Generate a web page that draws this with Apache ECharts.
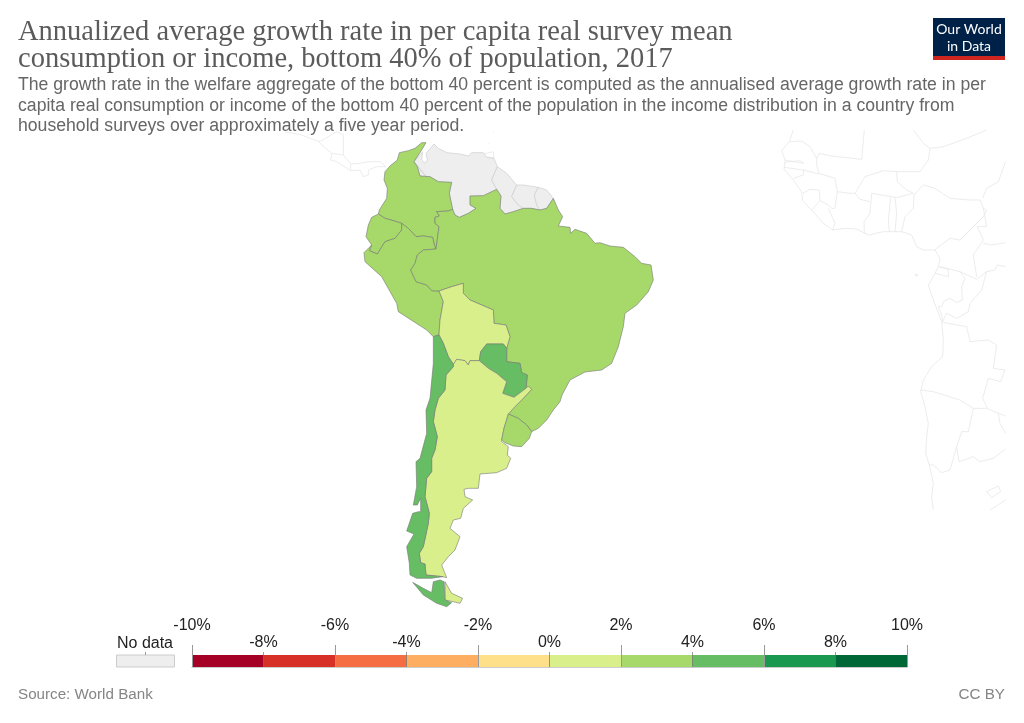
<!DOCTYPE html>
<html>
<head>
<meta charset="utf-8">
<style>html,body{margin:0;padding:0;background:#fff}#c{width:1024px;height:723px}</style>
<script src="https://cdn.jsdelivr.net/npm/echarts@6/dist/echarts.min.js"></script>
</head>
<body>
<div id="c"></div>
<script>
// ---- data ----
const countries = ['Colombia','Ecuador','Peru','Brazil','Bolivia','Paraguay','Argentina','Chile','Uruguay'];
const growth    = [3.1, 2.7, 3.3, 3.4, 1.6, 4.6, 1.1, 4.8, 3.5];
const noDataCountries = ['Venezuela','Guyana','Suriname','French Guiana'];
const binEdges  = [-10,-8,-6,-4,-2,0,2,4,6,8,10];
const binColors = ['#a50026','#d73027','#f46d43','#fdae61','#fee08b','#d9ef8b','#a6d96a','#66bd63','#1a9850','#006837'];
const upperTicks = [-10,-6,-2,2,6,10];
const lowerTicks = [-8,-4,0,4,8];

// ---- outline tracing (region shapes) ----
const A = a => a.map(p => [340 + p[0]/3, 130 + p[1]/3]);
const B = a => a.map(p => [390 + p[0]/3, 330 + p[1]/3]);
const W = a => a.map(p => [760 + p[0]/3, 130 + p[1]/3]);
const T = a => a.map(p => [280 + p[0]/3, 120 + p[1]/3]);
const R = a => a.slice().reverse();

const colEcu = A([[115,252],[135,265],[160,272],[185,280]]);
const colPer = A([[185,280],[205,295],[228,320],[250,318],[278,322],[283,345],[288,357]]);
const colBra = A([[288,357],[293,320],[297,290],[285,280],[285,262],[298,258],[290,245],[325,243],[338,238]]);
const colVen = A([[338,238],[328,190],[335,157],[295,155],[270,140],[240,138],[232,110],[222,95],[245,60],[258,38]]);
const colCoast = A([[258,38],[245,38],[225,55],[205,62],[178,68],[172,90],[150,108],[135,125],[132,150],[142,175],[140,205],[118,240],[115,252]]);
const ecuPer = A([[185,280],[185,300],[165,325],[135,335],[112,372],[88,362],[95,345]]);
const ecuCoast = A([[95,345],[78,320],[85,285],[95,262],[115,252]]);
const perBra = A([[288,357],[250,360],[232,375],[225,400],[212,420],[228,455],[260,465],[275,482],[297,483]]);
const bolPer = A([[297,483],[310,515],[300,570],[297,615]]);
const perChi = A([[297,615],[280,620]]);
const perCoast = A([[280,620],[260,600],[175,545],[170,520],[125,440],[75,395],[72,368],[95,345]]);
const braBol = A([[297,483],[335,470],[370,460],[370,490],[390,510],[460,540],[462,580],[498,585],[510,620]]).concat(B([[350,55]]));
const bolPar = B([[350,55],[340,42],[290,42],[272,65],[268,92]]);
const braPar = B([[350,55],[350,95],[390,100],[395,128],[412,135],[408,175]]);
const parArg = B([[268,92],[295,115],[320,130],[350,155],[338,190],[372,202],[408,175]]);
const bolArg = B([[268,92],[240,92],[235,105],[225,92],[200,88],[190,103]]);
const bolChi = B([[190,103],[175,80],[160,40]]).concat(A([[297,615]]));
const chiArg = B([[190,103],[190,110],[168,135],[165,180],[145,205],[135,240],[130,275],[142,320],[135,360],[125,385],[125,425],[110,445],[105,500],[118,550],[115,580],[100,650],[88,670],[92,698],[105,702],[108,735],[158,740]]);
const chiSouth = B([[158,740],[125,745],[80,745],[60,735],[58,700],[50,650],[72,612],[50,603],[68,550],[85,545],[92,545],[92,505],[82,525],[70,525],[80,470],[78,395],[90,385],[110,310],[108,240],[120,205],[130,100],[133,20]]);
const tdfChile = B([[68,757],[100,775],[125,788],[130,755],[150,750],[162,755],[165,810],[185,818],[170,830],[140,820],[100,795],[68,757]]);
const tdfArg = B([[165,755],[185,790],[218,805],[210,820],[190,815],[165,810],[165,755]]);
const argBra = B([[408,175],[415,168],[425,178],[400,205],[375,230],[355,252]]);
const argUru = B([[355,252],[342,295],[335,330]]);
const argCoast = B([[335,335],[355,350],[352,375],[362,385],[350,415],[320,428],[270,432],[265,475],[235,475],[222,478],[225,500],[248,510],[220,535],[212,565],[190,570],[180,595],[210,620],[195,660],[175,680],[155,705],[170,743],[158,740]]);
const braUru = B([[355,252],[385,265],[410,285],[425,305]]);
const uruCoast = B([[425,305],[418,325],[395,350],[370,348],[345,338],[335,330]]);
const braVen = A([[338,238],[345,255],[358,262],[385,250],[408,235],[390,225],[390,198],[430,197],[470,178]]);
const braGuy = A([[470,178],[483,198],[480,235],[495,252],[520,245],[550,235]]);
const braSur = A([[550,235],[575,235],[600,240]]);
const braFg  = A([[600,240],[620,235],[640,205]]);
const braCoast = A([[640,205],[655,240],[668,260],[655,288],[690,292],[692,310],[705,298],[740,310],[765,340],[780,338],[810,348],[850,352],[885,380],[905,400],[933,405],[940,450],[925,485],[890,525],[855,550],[850,590],[835,650],[815,700],[785,720]])
  .concat([[585,372],[570,380],[562,395]])
  .concat(B([[510,215],[490,240],[470,270],[445,295],[425,305]]));
const venCoast = A([[222,95],[248,65],[245,90],[255,100],[262,90],[258,70],[282,42],[295,55],[320,68],[360,72],[385,78],[395,68],[430,68],[440,82],[462,85],[472,110]]);
const venGuy = A([[472,110],[455,150],[470,178]]);
const guyTop = A([[472,110],[500,130],[530,165]]);
const guySur = A([[530,165],[515,200],[535,225],[550,235]]);
const surTop = A([[530,165],[550,165],[595,172]]);
const surFg  = A([[595,172],[583,195],[590,225],[600,240]]);
const fgTop  = A([[595,172],[620,180],[640,205]]);

const shapes = {
  'Venezuela': [venCoast.concat(venGuy, R(braVen), R(colVen.slice(0,8)))],
  'Guyana': [guyTop.concat(guySur, R(braGuy), R(venGuy))],
  'Suriname': [surTop.concat(surFg, R(braSur), R(guySur))],
  'French Guiana': [fgTop.concat(R(braFg), R(surFg))],
  'Colombia': [colEcu.concat(colPer, colBra, colVen, colCoast)],
  'Ecuador': [colEcu.concat(ecuPer, ecuCoast)],
  'Peru': [colPer.concat(perBra, bolPer, perChi, perCoast, R(ecuPer))],
  'Brazil': [colBra.concat(braVen, braGuy, braSur, braFg, braCoast, R(braUru), R(argBra), R(braPar), R(braBol), R(perBra))],
  'Bolivia': [braBol.concat(bolPar, bolArg, bolChi, R(bolPer))],
  'Paraguay': [bolPar.concat(parArg, R(braPar))],
  'Argentina': [R(bolArg).concat(parArg, argBra, argUru, argCoast, R(chiArg)), tdfArg],
  'Chile': [perChi.concat(R(chiSouth), R(chiArg), bolChi), tdfChile],
  'Uruguay': [R(argUru).concat(braUru, uruCoast)]
};

// faint neighbours, drawn as thin lines only
const faintLines = [
  T([[318,140],[300,125],[265,125],[240,130],[212,132],[190,105],[190,45],[170,35],[120,65],[90,55],[65,45],[40,40],[15,36]]),
  T([[318,140],[290,140],[265,150],[265,165],[250,170],[240,150],[212,152],[170,125],[152,120],[155,100],[115,65]]),
  T([[190,105],[155,100]]), T([[212,132],[212,152]]),
  A([[430,72],[460,65],[462,82],[435,82],[430,72]]),
  T([[640,34],[642,37]]), T([[625,70],[627,72]]), T([[668,48],[670,50]]),
  W([[100,0],[88,35],[65,62],[75,90],[72,118],[100,150],[125,185],[128,212],[155,240],[190,280],[218,300],[255,295],[290,297],[325,315],[370,305],[425,305],[455,315],[470,350],[490,360],[525,360],[540,385],[535,410],[525,430],[505,465],[520,510],[545,575],[550,630],[548,680],[515,710],[490,750],[482,785],[495,830],[505,880],[500,920],[497,970],[508,1005],[520,1060],[515,1100],[520,1140]]),
  W([[88,35],[125,33],[150,50],[170,85],[178,70],[215,78],[305,88],[313,0]]),
  W([[170,85],[170,105],[177,130]]), W([[72,112],[130,120],[177,132]]),
  W([[75,90],[130,100],[120,92],[75,97]]), W([[100,145],[130,135],[130,120]]),
  W([[177,130],[225,145],[232,185],[225,235],[215,235],[205,225],[180,212],[178,180],[150,178],[128,190]]),
  W([[180,212],[155,240]]), W([[205,235],[218,265],[225,280],[218,300]]),
  W([[232,185],[270,190],[285,190],[300,208],[330,215]]),
  W([[285,190],[315,140],[370,122],[410,125],[480,125],[505,90],[510,55],[550,50],[620,25],[680,0]]),
  W([[460,0],[490,40],[510,55]]),
  W([[335,190],[410,203],[460,190],[440,180],[412,155],[410,125]]),
  W([[335,190],[330,250],[312,275],[313,310]]),
  W([[392,203],[385,270],[388,305]]), W([[405,205],[410,250],[405,305]]),
  W([[425,305],[435,260],[460,235],[462,195]]),
  W([[462,195],[490,165],[525,175],[570,205],[630,210],[660,210],[670,235],[680,240],[670,260],[640,290],[600,330],[570,325],[530,355],[525,360]]),
  W([[680,290],[652,290],[670,330],[640,375],[650,440]]), W([[670,340],[695,345],[737,338]]),
  W([[668,205],[680,175],[715,155],[737,95]]), W([[670,235],[680,290]]),
  W([[540,410],[600,425],[650,448],[680,425],[705,420],[712,405],[737,410]]),
  W([[535,410],[565,418],[565,440],[525,430]]),
  W([[600,425],[615,445],[605,470],[607,510],[590,518],[570,505],[550,515],[545,530],[535,530],[545,555],[548,575]]),
  W([[680,425],[665,480],[630,520],[625,545],[590,565],[560,550],[548,575]]),
  W([[548,577],[620,590],[630,635],[685,630],[710,645],[700,715],[735,720],[722,755],[685,745],[668,805],[682,835]]),
  W([[482,780],[520,785],[600,810],[640,835],[680,835],[715,850],[737,858]]),
  W([[640,835],[625,905],[605,905],[590,950],[570,1020],[545,1028],[520,1005],[508,1005]]),
  W([[590,950],[597,995],[640,980],[660,995],[700,985],[737,957]]),
  W([[715,850],[720,880],[737,910]]),
  W([[680,1085],[715,1068],[722,1085],[695,1103],[680,1085]]),
  W([[737,1110],[690,1140]]), W([[466,433],[472,433],[472,437],[466,437],[466,433]])
];

const flip = ring => ring.map(p => [p[0], -p[1]]);
const features = [{
  type:'Feature', properties:{name:'Neighbours'},
  geometry:{type:'MultiLineString', coordinates: faintLines.map(flip)}
}].concat(noDataCountries.concat(countries).map(n => ({
  type:'Feature', properties:{name:n},
  geometry:{type:'MultiPolygon', coordinates: shapes[n].map(r => [flip(r)])}
})));
echarts.registerMap('region', {type:'FeatureCollection', features});

const legendBins = binColors.map((c,i) => [binEdges[i], binEdges[i+1], i]);
const tickFmt = v => v + '%';
const chart = echarts.init(document.getElementById('c'), null, {renderer:'canvas'});
const sans = '"Liberation Sans", Arial, sans-serif';

chart.setOption({
  animation:false,
  backgroundColor:'#fff',
  title:[
    {text:'Annualized average growth rate in per capita real survey mean\nconsumption or income, bottom 40% of population, 2017',
     left:18, top:19, padding:0,
     textStyle:{fontFamily:'"Liberation Serif", serif', fontWeight:'normal', fontSize:28.5, lineHeight:27, color:'#5b5b5b'}},
    {text:'The growth rate in the welfare aggregate of the bottom 40 percent is computed as the annualised average growth rate in per\ncapita real consumption or income of the bottom 40 percent of the population in the income distribution in a country from\nhousehold surveys over approximately a five year period.',
     left:18, top:75, padding:0,
     textStyle:{fontFamily:sans, fontWeight:'normal', fontSize:17.65, lineHeight:20.5, color:'#666'}},
    {text:'Source: World Bank', left:18, top:687, padding:0,
     textStyle:{fontFamily:sans, fontWeight:'normal', fontSize:15.2, color:'#858585'}},
    {text:'CC BY', right:19, top:687, padding:0,
     textStyle:{fontFamily:sans, fontWeight:'normal', fontSize:15.2, color:'#858585'}}
  ],
  visualMap:{
    show:false, type:'piecewise', seriesIndex:0, dimension:0,
    pieces: legendBins.map(b => ({gte:b[0], lt:b[1], color:binColors[b[2]]}))
  },
  grid:{left:192, width:715, top:655, height:12},
  xAxis:[
    {type:'value', position:'top', min:-10, max:10, z:3,
     splitLine:{show:false},
     axisLine:{show:true, lineStyle:{color:'#ccc', width:1}},
     axisTick:{show:true, length:22, customValues:upperTicks, lineStyle:{color:'#999', width:1}},
     axisLabel:{show:true, customValues:upperTicks, formatter:tickFmt, margin:21, fontFamily:sans, fontSize:16, color:'#222', hideOverlap:false}},
    {type:'value', position:'bottom', min:-10, max:10, z:3,
     splitLine:{show:false},
     axisLine:{show:true, lineStyle:{color:'#ccc', width:1}},
     axisTick:{show:true, inside:true, length:15, customValues:lowerTicks, lineStyle:{color:'rgba(90,90,90,0.6)', width:1}},
     axisLabel:{show:true, inside:true, customValues:lowerTicks, formatter:tickFmt, margin:16, fontFamily:sans, fontSize:16, color:'#222', hideOverlap:false}}
  ],
  yAxis:{type:'value', min:0, max:1, show:false},
  series:[
    {type:'map', map:'region', silent:true, roam:false, aspectScale:1,
     left:0, top:0, width:1024, height:723,
     boundingCoords:[[0,0],[1024,-723]],
     label:{show:false}, emphasis:{disabled:true}, select:{disabled:true},
     itemStyle:{areaColor:'#eeeeee', borderColor:'#cfcfcf', borderWidth:0.7},
     data:[{name:'Neighbours', value:NaN, itemStyle:{areaColor:'none', borderColor:'#e4e4e4', borderWidth:0.7}}]
       .concat(countries.map((n,i) => ({name:n, value:growth[i], itemStyle:{borderColor:'#777', borderWidth:0.6}})))
    },
    {type:'custom', coordinateSystem:'cartesian2d', xAxisIndex:0, yAxisIndex:0, silent:true, z:2,
     encode:{x:[0,1]},
     data:legendBins,
     renderItem:(params, api) => {
       const a = api.coord([api.value(0), 1]), b = api.coord([api.value(1), 0]);
       return {type:'rect', shape:{x:a[0], y:a[1], width:b[0]-a[0], height:b[1]-a[1]},
               style:{fill:binColors[api.value(2)]}};
     }}
  ],
  graphic:[
    {type:'rect', shape:{x:116.5, y:655, width:58, height:12}, style:{fill:'#eee', stroke:'#ccc', lineWidth:1}},
    {type:'line', shape:{x1:145.5, y1:652, x2:145.5, y2:655}, style:{stroke:'#999', lineWidth:1}},
    {type:'text', x:145, y:644, style:{text:'No data', fontFamily:sans, fontSize:16, fill:'#222', align:'center', verticalAlign:'middle'}},
    {type:'rect', shape:{x:933, y:18, width:72, height:42}, style:{fill:'#002147'}},
    {type:'rect', shape:{x:933, y:56, width:72, height:4}, style:{fill:'#ce261e'}},
    {type:'text', x:969, y:29.5, style:{text:'Our World', fontFamily:'Lato, sans-serif', fontSize:14, fill:'#fff', align:'center', verticalAlign:'middle'}},
    {type:'text', x:969, y:46, style:{text:'in Data', fontFamily:'Lato, sans-serif', fontSize:14, fill:'#fff', align:'center', verticalAlign:'middle'}}
  ]
});
</script>
</body>
</html>
